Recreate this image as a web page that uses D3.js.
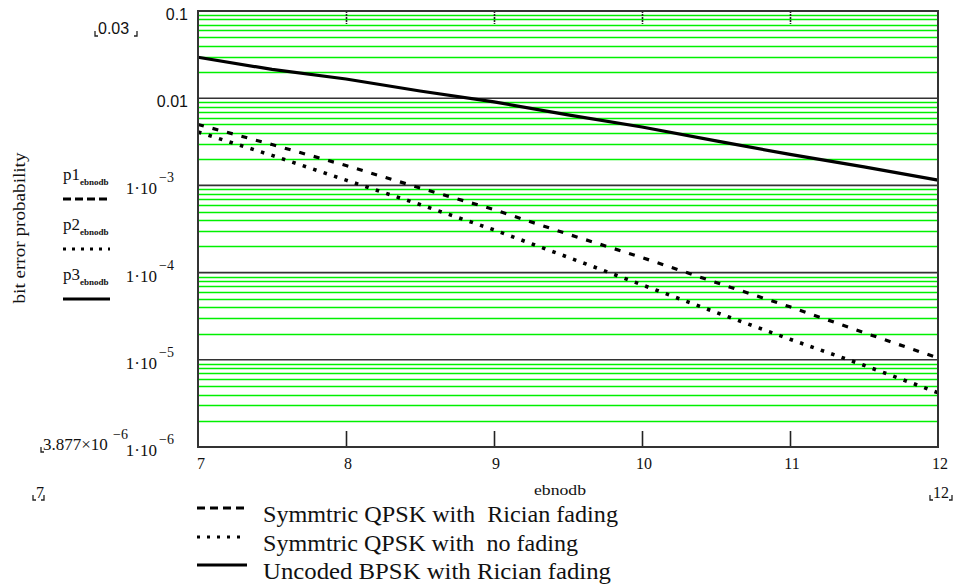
<!DOCTYPE html>
<html>
<head>
<meta charset="utf-8">
<script src="https://cdn.jsdelivr.net/npm/d3@7/dist/d3.min.js"></script>
<style>
  html, body { margin: 0; padding: 0; background: #fff; }
  svg { display: block; }
  text { white-space: pre; }
</style>
</head>
<body>
<svg id="chart" width="959" height="585"></svg>
<script>
// ---- data ----
const ebnodb = [7, 7.5, 8, 8.5, 9, 9.5, 10, 10.5, 11, 11.5, 12];
const p1 = [5.0e-3, 2.94e-3, 1.69e-3, 9.35e-4, 5.28e-4, 2.76e-4, 1.49e-4, 7.7e-5, 4.05e-5, 2.05e-5, 1.05e-5]; // Symmtric QPSK, Rician
const p2 = [4.1e-3, 2.21e-3, 1.15e-3, 6.03e-4, 3.09e-4, 1.5e-4, 7.24e-5, 3.5e-5, 1.72e-5, 8.65e-6, 4.19e-6]; // Symmtric QPSK, no fading
const p3 = [2.95e-2, 2.14e-2, 1.66e-2, 1.21e-2, 9.06e-3, 6.43e-3, 4.68e-3, 3.24e-3, 2.27e-3, 1.63e-3, 1.15e-3]; // Uncoded BPSK, Rician
const xTicks = [7, 8, 9, 10, 11, 12];
const yDecades = [0.1, 0.01, 1e-3, 1e-4, 1e-5, 1e-6];
const yDecadeLabels = [
  {base: "0.1", exp: null},
  {base: "0.01", exp: null},
  {base: "1\u00B710", exp: "\u22123"},
  {base: "1\u00B710", exp: "\u22124"},
  {base: "1\u00B710", exp: "\u22125"},
  {base: "1\u00B710", exp: "\u22126"}
];
const yMinorMults = [2, 3, 4, 5, 6, 7, 8, 9];
const seriesNames = ["p1", "p2", "p3"];
const legendLabels = [
  "Symmtric QPSK with  Rician fading",
  "Symmtric QPSK with  no fading",
  "Uncoded BPSK with Rician fading"
];
const yTitle = "bit error probability";
const xTitle = "ebnodb";
const yMaxMark = "0.03";
const yMinMark = {base: "3.877\u00D710", exp: "\u22126"};
const xMinMark = "7", xMaxMark = "12";

// ---- layout ----
const L = 198, R = 938, T = 11, B = 447;
const svg = d3.select("#chart");
const x = d3.scaleLinear().domain([7, 12]).range([L, R]);
const y = d3.scaleLog().domain([1e-6, 0.1]).range([B, T]);

const serif = "'Liberation Serif', 'Times New Roman', serif";
const sans = "'Liberation Sans', Arial, sans-serif";

// minor green gridlines
const minorVals = [];
for (const d of yDecades.slice(1)) for (const m of yMinorMults) minorVals.push(d * m);
svg.append("g").selectAll("line").data(minorVals).join("line")
  .attr("x1", L).attr("x2", R)
  .attr("y1", d => Math.round(y(d)) + 0.5).attr("y2", d => Math.round(y(d)) + 0.5)
  .attr("stroke", "#00f000").attr("stroke-width", 1.5);

// major decade lines
svg.append("g").selectAll("line").data(yDecades.slice(1, 5)).join("line")
  .attr("x1", L).attr("x2", R)
  .attr("y1", d => y(d)).attr("y2", d => y(d))
  .attr("stroke", "#333").attr("stroke-width", 1.6);

// x axis (bottom ticks pointing inward)
const xAxis = svg.append("g").attr("transform", `translate(0,${B})`)
  .call(d3.axisBottom(x).tickValues(xTicks.slice(1, 5)).tickSizeInner(-16).tickSizeOuter(0).tickFormat(""));
xAxis.select(".domain").remove();
xAxis.selectAll("line").attr("stroke", "#222").attr("stroke-width", 1.6);

// top ticks (dotted)
const xTop = svg.append("g").attr("transform", `translate(0,${T})`)
  .call(d3.axisTop(x).tickValues(xTicks.slice(1, 5)).tickSizeInner(-13).tickSizeOuter(0).tickFormat(""));
xTop.select(".domain").remove();
xTop.selectAll("line").attr("stroke", "#222").attr("stroke-width", 1.6).attr("stroke-dasharray", "2,1");

// x tick labels
svg.append("g").selectAll("text").data(xTicks).join("text")
  .attr("x", d => x(d) + (d === 7 ? 3 : 2)).attr("y", 469)
  .attr("text-anchor", "middle")
  .attr("font-family", serif).attr("font-size", 16).attr("fill", "#111")
  .text(d => d);

// curves
const line = d3.line().x((d, i) => x(ebnodb[i])).y(d => y(d));
svg.append("path").datum(p3).attr("d", line).attr("fill", "none")
  .attr("stroke", "#000").attr("stroke-width", 3.2);
svg.append("path").datum(p1).attr("d", line).attr("fill", "none")
  .attr("stroke", "#000").attr("stroke-width", 3.2).attr("stroke-dasharray", "6,9");
svg.append("path").datum(p2).attr("d", line).attr("fill", "none")
  .attr("stroke", "#000").attr("stroke-width", 3.6).attr("stroke-dasharray", "3.5,7.5");

// frame
svg.append("rect").attr("x", L).attr("y", T).attr("width", R - L).attr("height", B - T)
  .attr("fill", "none").attr("stroke", "#333").attr("stroke-width", 2);

// y labels
const yl = svg.append("g").attr("font-family", serif).attr("fill", "#111");
yDecadeLabels.forEach((lab, i) => {
  const yy = y(yDecades[i]);
  if (!lab.exp) {
    yl.append("text").attr("x", 188).attr("y", yy + 9).attr("text-anchor", "end")
      .attr("font-family", sans).attr("font-size", 16).text(lab.base);
  } else {
    yl.append("text").attr("x", 157).attr("y", yy + 9).attr("text-anchor", "end")
      .attr("font-size", 17).text(lab.base);
    yl.append("text").attr("x", 159).attr("y", yy - 3).attr("text-anchor", "start")
      .attr("font-size", 14).text(lab.exp);
  }
});

// min / max markers with small corner brackets
function bracket(x0, x1, yb) {
  svg.append("path").attr("d", `M${x0},${yb - 5}V${yb}H${x0 + 3}M${x1},${yb - 5}V${yb}H${x1 - 3}`)
    .attr("fill", "none").attr("stroke", "#222").attr("stroke-width", 1.3);
}
svg.append("text").attr("x", 98).attr("y", 34).attr("font-family", sans).attr("font-size", 16)
  .attr("fill", "#111").text(yMaxMark);
bracket(95, 137, 36);
svg.append("text").attr("x", 43).attr("y", 450).attr("font-family", serif).attr("font-size", 17)
  .attr("fill", "#111").text(yMinMark.base);
svg.append("text").attr("x", 113).attr("y", 439).attr("font-family", serif).attr("font-size", 14)
  .attr("fill", "#111").text(yMinMark.exp);
svg.append("path").attr("d", "M41,447V452H44").attr("fill", "none").attr("stroke", "#222").attr("stroke-width", 1.3);
svg.append("text").attr("x", 36).attr("y", 498).attr("font-family", serif).attr("font-size", 16)
  .attr("fill", "#111").text(xMinMark);
bracket(33, 44, 500);
svg.append("text").attr("x", 933).attr("y", 498).attr("font-family", serif).attr("font-size", 16)
  .attr("fill", "#111").text(xMaxMark);
bracket(930, 952, 500);

// axis titles
svg.append("text").attr("transform", "translate(25,228) rotate(-90)").attr("text-anchor", "middle")
  .attr("font-family", serif).attr("font-size", 17).attr("fill", "#111")
  .attr("textLength", 151).attr("lengthAdjust", "spacingAndGlyphs").text(yTitle);
svg.append("text").attr("x", 560).attr("y", 495).attr("text-anchor", "middle")
  .attr("font-family", serif).attr("font-size", 14).attr("fill", "#111")
  .attr("textLength", 52).attr("lengthAdjust", "spacingAndGlyphs").text(xTitle);

// left expression legend
const styles = [
  {dash: "8,4", w: 3},
  {dash: "3,6", w: 3.2},
  {dash: null, w: 3.2}
];
const leftRows = [180, 230, 280];
seriesNames.forEach((nm, i) => {
  const by = leftRows[i];
  const t = svg.append("text").attr("x", 63).attr("y", by).attr("font-family", serif)
    .attr("fill", "#111");
  t.append("tspan").attr("font-size", 17).text(nm);
  t.append("tspan").attr("font-size", 9).attr("font-weight", "bold").attr("dy", 5).text("ebnodb");
  svg.append("line").attr("x1", 63).attr("x2", 110).attr("y1", by + 19).attr("y2", by + 19)
    .attr("stroke", "#000").attr("stroke-width", styles[i].w)
    .attr("stroke-dasharray", styles[i].dash);
});

// bottom legend
const legRows = [508, 537, 565];
const legWidths = [355, 315, 348];
const legDash = ["8,5", "3,7", null];
legendLabels.forEach((lab, i) => {
  svg.append("line").attr("x1", 197).attr("x2", 247).attr("y1", legRows[i]).attr("y2", legRows[i])
    .attr("stroke", "#000").attr("stroke-width", 3).attr("stroke-dasharray", legDash[i]);
  svg.append("text").attr("x", 263).attr("y", legRows[i] + 14)
    .attr("font-family", serif).attr("font-size", 24).attr("fill", "#111")
    .attr("textLength", legWidths[i]).attr("lengthAdjust", "spacingAndGlyphs")
    .text(lab);
});
</script>
</body>
</html>
